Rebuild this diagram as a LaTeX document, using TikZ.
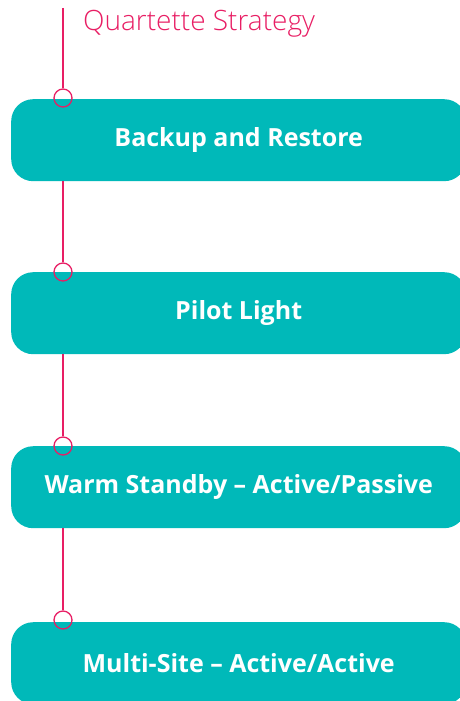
\documentclass[tikz,border=0pt]{standalone}
\usepackage{fontspec}
\setmainfont{Open Sans}
\newfontfamily\lightfont{Open Sans Light}
\definecolor{tealbox}{RGB}{0,185,185}
\definecolor{pinkline}{RGB}{232,30,100}
\begin{document}
\begin{tikzpicture}[x=1pt,y=-1pt,
  stagebox/.style={fill=tealbox,rounded corners=22pt,minimum width=455pt,minimum height=82pt,
    inner sep=0pt,text=white,font=\fontsize{25}{29}\selectfont\bfseries,anchor=north west},
  ring/.style={circle,draw=pinkline,line width=1.3pt,minimum size=18pt,inner sep=0pt},
  stem/.style={draw=pinkline,line width=1.3pt}]
\useasboundingbox (0,0) rectangle (460,701);
\begin{scope}
\clip (0,0) rectangle (460,701);
\node[stagebox] (b1) at (11,99) {Backup and Restore};
\node[stagebox] (b2) at (11,272) {Pilot Light};
\node[stagebox] (b3) at (11,446) {Warm Standby – Active/Passive};
\node[stagebox] (b4) at (11,622) {Multi-Site – Active/Active};
\end{scope}
\coordinate (top) at (63,8);
\node[ring] (c1) at (63,98) {};
\node[ring] (c2) at (63,272) {};
\node[ring] (c3) at (63,446) {};
\node[ring] (c4) at (63,620) {};
\draw[stem] (top) -- (c1.north);
\draw[stem] (b1.south -| c2) -- (c2.north);
\draw[stem] (b2.south -| c3) -- (c3.north);
\draw[stem] (b3.south -| c4) -- (c4.north);
\node[anchor=base west,text=pinkline,font=\lightfont\fontsize{28}{32}\selectfont,inner sep=0pt] (title) at (83,31) {Quartette Strategy};
\end{tikzpicture}
\end{document}
